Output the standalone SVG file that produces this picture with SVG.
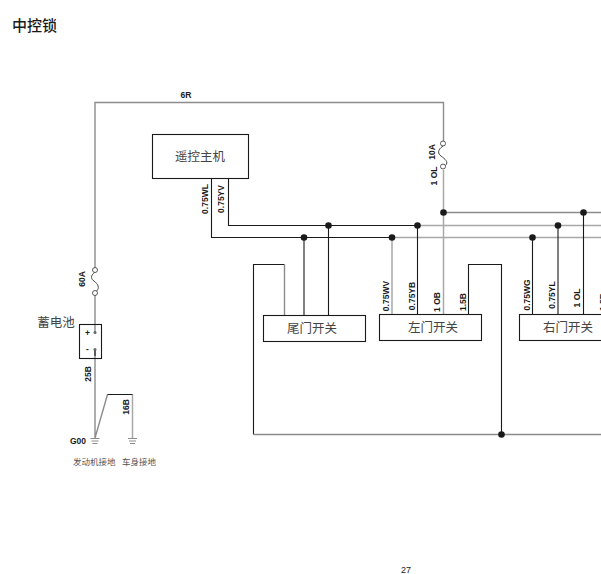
<svg xmlns="http://www.w3.org/2000/svg" width="601" height="574" viewBox="0 0 601 574">
<style>
.g{fill:none;stroke:#a8a8a8;stroke-width:1.5}
.d{fill:none;stroke:#8c8c8c;stroke-width:1.4}
.k{fill:none;stroke:#1a1a1a;stroke-width:1.1}
.box{fill:#fff;stroke:#1a1a1a;stroke-width:1.1}
.dot{fill:#1a1a1a}
.fu{fill:#fff;stroke:#333;stroke-width:.8}
.fc{fill:none;stroke:#333;stroke-width:.9}
.w{font:bold 8.5px "Liberation Sans",Arial,sans-serif;fill:#1a1a1a}
.r{text-anchor:middle}
.n{font:12.500px "Noto Sans CJK SC","Liberation Sans",sans-serif;fill:#444;text-anchor:middle}
.s{font:8.500px "Noto Sans CJK SC","Liberation Sans",sans-serif;fill:#555}
</style>
<text x="12" y="31" style="font:500 15px 'Noto Sans CJK SC',sans-serif;fill:#1a1a1a">中控锁</text>
<g id="connectors">
<path class="d" d="M95 268V102.500H443.500V141"/>
<path class="g" d="M443.500 170V314.500"/>
<path class="d" d="M443.500 212.500H601"/>
<path class="k" d="M228.500 178.500V225.500H417.500"/>
<path class="g" d="M417.500 225.500H601"/>
<path class="k" d="M211.500 178.500V237.500H392"/>
<path class="g" d="M392 237.500H601M392 237.500V314.500"/>
<path class="k" d="M304 237.500V315M328.500 225.500V315M417.500 225.500V314.500M468.500 314.500V264.500H501.500V434.500M253.500 434.500V264.500H284.500M532.500 237.500V314.500M558 225.500V314.500M583.500 212.500V314.500"/>
<path class="d" d="M253.500 434.500H601M284.500 264.500V315"/>
<path class="d" d="M95 295V332M95 349V438M95 438L107.500 394.500"/>
<path class="g" d="M132.500 394.500V438"/>
<path class="k" d="M107.500 394.500H132.500M95 349.500V356"/>
<circle class="dot" cx="443.500" cy="212.500" r="3.300"/>
<circle class="dot" cx="583.500" cy="212.500" r="3.300"/>
<circle class="dot" cx="417.500" cy="225.500" r="3.300"/>
<circle class="dot" cx="558" cy="225.500" r="3.300"/>
<circle class="dot" cx="328.500" cy="225.500" r="3.300"/>
<circle class="dot" cx="392" cy="237.500" r="3.300"/>
<circle class="dot" cx="532.500" cy="237.500" r="3.300"/>
<circle class="dot" cx="304" cy="237.500" r="3.300"/>
<circle class="dot" cx="501.500" cy="434.500" r="3.300"/>
</g>
<g id="fuse-10a">
<path class="fc" d="M443 146C437 150 438 154 441 156C445 159 449 162 445.500 165.500"/>
<circle class="fu" cx="443" cy="143.500" r="2.500"/>
<circle class="fu" cx="443" cy="166.500" r="2.500"/>
<text class="w r" transform="translate(434.500 152) rotate(-90)">10A</text>
<text class="w r" transform="translate(437 176) rotate(-90)">1 OL</text>
</g>
<g id="fuse-60a">
<path class="fc" d="M95 272C90 276 91 279 94 281C98 284 100 288 96.500 291"/>
<circle class="fu" cx="95" cy="270" r="2.500"/>
<circle class="fu" cx="95" cy="293" r="2.500"/>
<text class="w r" transform="translate(85 279) rotate(-90)">60A</text>
</g>
<g id="battery">
<rect class="box" x="79.500" y="324.500" width="22" height="34" style="fill:none"/>
<circle cx="95" cy="332.500" r="1.500" fill="#666"/>
<circle cx="95" cy="349.500" r="1.500" fill="#666"/>
<text class="w" x="85" y="336">+</text>
<text class="w" x="86" y="352">-</text>
<text class="n" x="56" y="327">蓄电池</text>
</g>
<g id="remote-host">
<rect class="box" x="152.500" y="134.500" width="96" height="44"/>
<text class="n" x="200" y="161">遥控主机</text>
</g>
<g id="tail-door-switch">
<rect class="box" x="263.500" y="315.500" width="102" height="26"/>
<text class="n" x="312" y="333">尾门开关</text>
</g>
<g id="left-door-switch">
<rect class="box" x="379.500" y="314.500" width="102" height="26"/>
<text class="n" x="433" y="332">左门开关</text>
</g>
<g id="right-door-switch">
<rect class="box" x="519.500" y="314.500" width="102" height="26"/>
<text class="n" x="568" y="332">右门开关</text>
</g>
<g id="ground-engine">
<path class="d" d="M90.500 438.500H99.500M91.500 441H98.500M92.500 443.500H97.500" style="stroke-width:1"/>
<text class="w" x="70" y="444">G00</text>
<text class="s" x="73" y="465">发动机接地</text>
</g>
<g id="ground-body">
<path class="d" d="M128 438.500H137M129 441H136M130 443.500H135" style="stroke-width:1"/>
<text class="s" x="122" y="465">车身接地</text>
</g>
<g id="wire-labels">
<text class="w r" x="186" y="98">6R</text>
<text class="w r" transform="translate(208 199) rotate(-90)">0.75WL</text>
<text class="w r" transform="translate(224 199) rotate(-90)">0.75YV</text>
<text class="w r" transform="translate(91 374) rotate(-90)">25B</text>
<text class="w r" transform="translate(129 407) rotate(-90)">16B</text>
<text class="w r" transform="translate(389 296) rotate(-90)">0.75WV</text>
<text class="w r" transform="translate(415 296) rotate(-90)">0.75YB</text>
<text class="w r" transform="translate(440 302) rotate(-90)">1 OB</text>
<text class="w r" transform="translate(466 302) rotate(-90)">1.5B</text>
<text class="w r" transform="translate(530 295) rotate(-90)">0.75WG</text>
<text class="w r" transform="translate(555 295) rotate(-90)">0.75YL</text>
<text class="w r" transform="translate(580 298) rotate(-90)">1 OL</text>
<text class="w r" transform="translate(606 302) rotate(-90)">1.5B</text>
</g>
<text x="406" y="573" class="w r" style="font-weight:normal;font-size:9px">27</text>
</svg>
